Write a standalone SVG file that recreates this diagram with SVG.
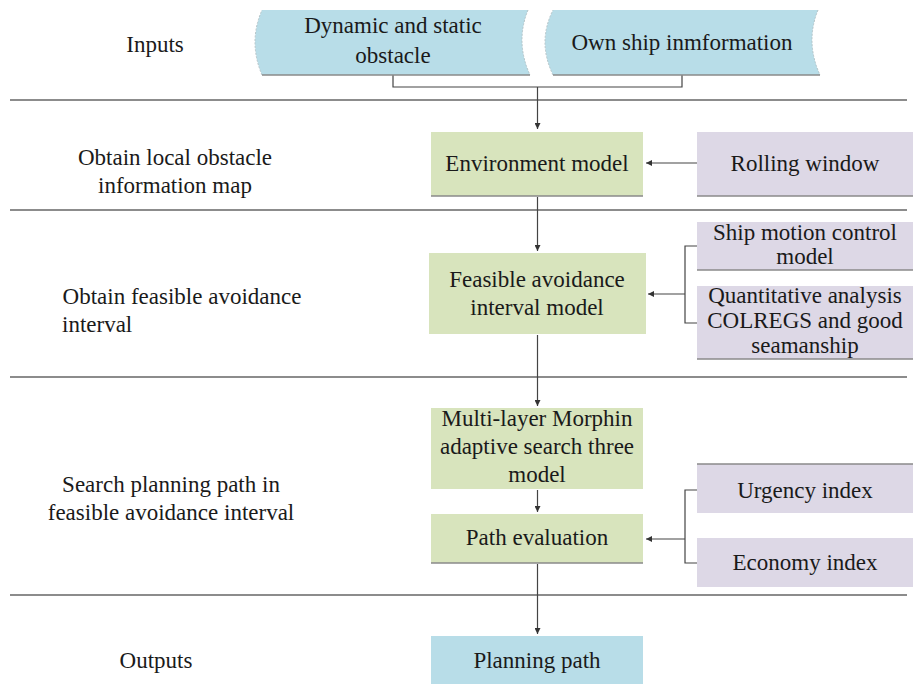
<svg xmlns="http://www.w3.org/2000/svg" width="914" height="684" viewBox="0 0 914 684">
<defs>
<marker id="arr" viewBox="0 0 8 8" refX="8" refY="4" markerWidth="6" markerHeight="6" markerUnits="userSpaceOnUse" orient="auto">
<path d="M0,0 L8,4 L0,8 Z" fill="#333"/>
</marker>
</defs>
<style>
text{font-family:"Liberation Serif","Times New Roman",serif;font-size:23px;fill:#1a1a1a;text-anchor:middle}
.sep{stroke:#666;stroke-width:1.5;fill:none}
.con{stroke:#444;stroke-width:1.2;fill:none}
.blue{fill:#b8dde8}
.green{fill:#d8e4bd}
.purple{fill:#ddd8e6}
.sh{stroke:#8a8a8a;stroke-width:1.5}
.edge{fill:none;stroke:#b5c4c8;stroke-width:1;stroke-dasharray:2 1.5}
</style>
<rect width="914" height="684" fill="#fff"/>

<g id="separators">
<line class="sep" x1="10" y1="100" x2="907" y2="100"/>
<line class="sep" x1="10" y1="210" x2="907" y2="210"/>
<line class="sep" x1="10" y1="377" x2="907" y2="377"/>
<line class="sep" x1="10" y1="595" x2="907" y2="595"/>
</g>

<g id="stage-labels">
<text x="155" y="52">Inputs</text>
<text x="175" y="165">Obtain local obstacle</text>
<text x="175" y="193">information map</text>
<text x="182" y="304">Obtain feasible avoidance</text>
<text x="62" y="332" style="text-anchor:start">interval</text>
<text x="171" y="492">Search planning path in</text>
<text x="171" y="520">feasible avoidance interval</text>
<text x="156" y="668">Outputs</text>
</g>

<g id="connectors">
<path class="con" d="M393,75 V87 H682 V75"/>
<path class="con" d="M537.5,87 V129" marker-end="url(#arr)"/>
<path class="con" d="M697,163 H646" marker-end="url(#arr)"/>
<path class="con" d="M537.5,197 V251" marker-end="url(#arr)"/>
<path class="con" d="M697,246 H685 V323 H697"/>
<path class="con" d="M685,294 H648" marker-end="url(#arr)"/>
<path class="con" d="M537.5,335 V406" marker-end="url(#arr)"/>
<path class="con" d="M537.5,490 V512" marker-end="url(#arr)"/>
<path class="con" d="M697,490 H685 V563 H697"/>
<path class="con" d="M685,539 H646" marker-end="url(#arr)"/>
<path class="con" d="M537.5,564 V634" marker-end="url(#arr)"/>
</g>

<g id="n-dynamic">
<path class="blue" d="M262,10 L528,10 Q515,42 530,75 L262,75 Q248,42 262,10 Z"/>
<path class="edge" d="M528,10 Q515,42 530,75 M262,75 Q248,42 262,10"/>
<line class="sh" x1="262" y1="75" x2="530" y2="75"/>
<text x="393" y="33">Dynamic and static</text>
<text x="393" y="63">obstacle</text>
</g>

<g id="n-ownship">
<path class="blue" d="M553,10 L818,10 Q805,42 820,75 L553,75 Q537,42 553,10 Z"/>
<path class="edge" d="M818,10 Q805,42 820,75 M553,75 Q537,42 553,10"/>
<line class="sh" x1="553" y1="75" x2="820" y2="75"/>
<text x="682" y="50">Own ship inmformation</text>
</g>

<g id="n-env">
<rect class="green" x="431" y="132" width="212" height="64"/>
<line class="sh" x1="431" y1="196" x2="643" y2="196"/>
<text x="537" y="171">Environment model</text>
</g>

<g id="n-rolling">
<rect class="purple" x="697" y="132" width="216" height="64"/>
<line class="sh" x1="697" y1="196" x2="913" y2="196"/>
<text x="805" y="171">Rolling window</text>
</g>

<g id="n-feasible">
<rect class="green" x="429" y="253" width="217" height="81"/>
<text x="537" y="287">Feasible avoidance</text>
<text x="537" y="315">interval model</text>
</g>

<g id="n-shipmotion">
<rect class="purple" x="697" y="222" width="216" height="48"/>
<line class="sh" x1="697" y1="270" x2="913" y2="270"/>
<text x="805" y="240">Ship motion control</text>
<text x="805" y="264">model</text>
</g>

<g id="n-colregs">
<rect class="purple" x="697" y="286" width="216" height="73"/>
<line class="sh" x1="697" y1="359" x2="913" y2="359"/>
<text x="805" y="303">Quantitative analysis</text>
<text x="805" y="328">COLREGS and good</text>
<text x="805" y="353">seamanship</text>
</g>

<g id="n-morphin">
<rect class="green" x="431" y="408" width="212" height="81"/>
<text x="537" y="426">Multi-layer Morphin</text>
<text x="537" y="454">adaptive search three</text>
<text x="537" y="482">model</text>
</g>

<g id="n-patheval">
<rect class="green" x="431" y="514" width="212" height="49"/>
<line class="sh" x1="431" y1="563" x2="643" y2="563"/>
<text x="537" y="545">Path evaluation</text>
</g>

<g id="n-urgency">
<rect class="purple" x="697" y="464" width="216" height="49"/>
<line class="sh" x1="697" y1="464" x2="913" y2="464"/>
<text x="805" y="498">Urgency index</text>
</g>

<g id="n-economy">
<rect class="purple" x="697" y="538" width="216" height="49"/>
<text x="805" y="570">Economy index</text>
</g>

<g id="n-planning">
<rect class="blue" x="431" y="636" width="212" height="48"/>
<text x="537" y="668">Planning path</text>
</g>
</svg>
